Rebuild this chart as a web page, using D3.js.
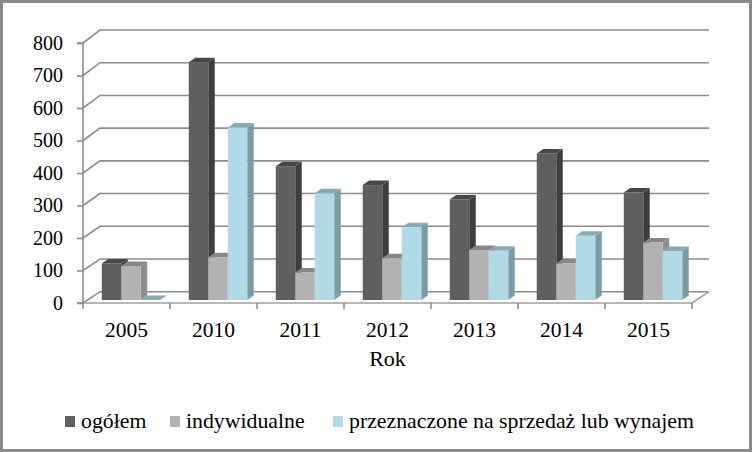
<!DOCTYPE html>
<html>
<head>
<meta charset="utf-8">
<script src="https://cdn.jsdelivr.net/npm/d3@7"></script>
<style>
  html, body { margin: 0; padding: 0; background: #fff; }
  svg text { font-family: "Liberation Serif", "Times New Roman", Times, "DejaVu Serif", serif; }
</style>
</head>
<body>
<div id="chart"></div>
<script>
// data
const years = ['2005', '2010', '2011', '2012', '2013', '2014', '2015'];
const series = ['ogółem', 'indywidualne', 'przeznaczone na sprzedaż lub wynajem'];
const ogolem = [112, 728, 410, 352, 308, 449, 329];
const indywidualne = [104, 131, 84, 128, 153, 112, 176];
const przeznaczone = [0, 528, 327, 223, 151, 197, 150];
const yTicks = [0, 100, 200, 300, 400, 500, 600, 700, 800];

const values = [ogolem, indywidualne, przeznaczone];
const colors = [
  { front: '#5f5f5f', top: '#474747', side: '#3e3e3e' },
  { front: '#b2b2b2', top: '#878787', side: '#8d8d8d' },
  { front: '#b0dbe6', top: '#88aab3', side: '#7c9ca4' }
];

const width = 752, height = 452;
const front = { left: 83, right: 692, bottom: 303, top: 43 };
const depth = { dx: 17, dy: -11.5 };
const barDepth = { dx: 6.5, dy: -4.5 };

const svg = d3.select('#chart').append('svg')
  .attr('width', width).attr('height', height);

// outer frame
svg.append('rect')
  .attr('x', 1.5).attr('y', 1.5)
  .attr('width', width - 3).attr('height', height - 3)
  .attr('fill', '#fff').attr('stroke', '#8a8a8a').attr('stroke-width', 3);

const x = d3.scaleBand().domain(years).range([front.left, front.right]);
const xs = d3.scaleBand().domain(d3.range(series.length)).range([14.25, 72.75]);
const yFront = d3.scaleLinear().domain([0, 800]).range([front.bottom, front.top]);
const yBack = d3.scaleLinear().domain([0, 800]).range([291.7, 30]);
const yBar = d3.scaleLinear().domain([0, 800]).range([300, 300 - 800 * 0.3265]);

// walls: gridlines with depth step
const grid = svg.append('g')
  .attr('fill', 'none').attr('stroke', '#8c8c8c').attr('stroke-width', 1.6);
grid.selectAll('path.grid').data(yTicks).join('path')
  .attr('class', 'grid')
  .attr('d', d => `M${front.left},${yFront(d)}L${front.left + depth.dx},${yBack(d)}L${front.right + depth.dx},${yBack(d)}`);

// floor outline
grid.append('path')
  .attr('stroke', '#a0a0a0')
  .attr('d', `M${front.left},${front.bottom}L${front.right},${front.bottom}L${front.right + depth.dx},${yBack(0)}`);

// bars
const gBars = svg.append('g');
years.forEach((yr, i) => {
  values.forEach((vals, s) => {
    const v = vals[i];
    const x0 = x(yr) + xs(s) + 4.5;
    const w = xs.bandwidth();
    const y0 = yBar(0), y1 = yBar(v);
    const c = colors[s];
    const g = gBars.append('g');
    g.append('path').attr('fill', c.side)
      .attr('d', `M${x0 + w},${y1}L${x0 + w + barDepth.dx},${y1 + barDepth.dy}L${x0 + w + barDepth.dx},${y0 + barDepth.dy}L${x0 + w},${y0}Z`);
    g.append('path').attr('fill', c.top)
      .attr('d', `M${x0},${y1}L${x0 + barDepth.dx},${y1 + barDepth.dy}L${x0 + w + barDepth.dx},${y1 + barDepth.dy}L${x0 + w},${y1}Z`);
    if (v > 0) {
      g.append('rect').attr('fill', c.front)
        .attr('x', x0).attr('y', y1).attr('width', w).attr('height', y0 - y1);
    }
  });
});

// y axis
const yAxis = d3.axisLeft(yFront).tickValues(yTicks).tickSize(6).tickPadding(14);
svg.append('g')
  .attr('transform', `translate(${front.left},0)`)
  .call(yAxis)
  .attr('font-family', null)
  .call(g => g.select('.domain').attr('stroke', '#8c8c8c').attr('stroke-width', 1.6).attr('d', `M-6,${front.top}H0V${front.bottom}H-6`))
  .call(g => g.selectAll('.tick line').attr('stroke', '#8c8c8c').attr('stroke-width', 1.6))
  .call(g => g.selectAll('.tick text').attr('fill', '#000').attr('font-size', 20));

// x axis
const xAxis = d3.axisBottom(x).tickSize(0).tickPadding(19);
const gx = svg.append('g')
  .attr('transform', `translate(0,${front.bottom})`)
  .call(xAxis)
  .attr('font-family', null)
  .call(g => g.select('.domain').remove())
  .call(g => g.selectAll('.tick text').attr('fill', '#000').attr('font-size', 21.5));
gx.selectAll('line.cat').data(years.concat(['end'])).join('line')
  .attr('class', 'cat')
  .attr('x1', (d, i) => front.left + i * x.bandwidth())
  .attr('x2', (d, i) => front.left + i * x.bandwidth())
  .attr('y1', 0).attr('y2', 6)
  .attr('stroke', '#8c8c8c').attr('stroke-width', 1.6);

svg.append('text')
  .attr('x', (front.left + front.right) / 2).attr('y', 366)
  .attr('text-anchor', 'middle').attr('font-size', 22)
  .text('Rok');

// legend
const legendX = [65, 170, 333];
const legend = svg.append('g');
series.forEach((name, s) => {
  legend.append('rect')
    .attr('x', legendX[s]).attr('y', 416).attr('width', 10).attr('height', 11)
    .attr('fill', colors[s].front);
  legend.append('text')
    .attr('x', legendX[s] + 16).attr('y', 427.5)
    .attr('font-size', 21.8)
    .text(name);
});
</script>
</body>
</html>
